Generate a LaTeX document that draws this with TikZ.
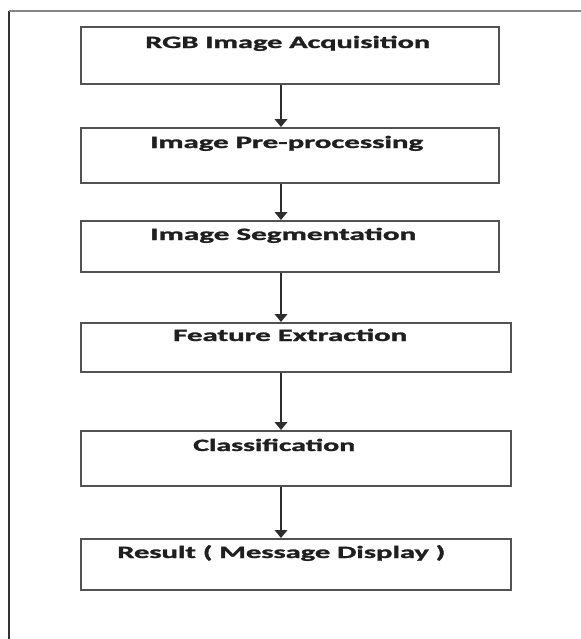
\documentclass[tikz,border=0pt]{standalone}
\usepackage{fontspec}
\setmainfont{Carlito}
\newfontfamily\stagefont{Carlito}[BoldFont={Carlito Bold}, BoldFeatures={FakeBold=1.3}]
\usetikzlibrary{arrows.meta}
\newlength\pxu
\setlength\pxu{0.75pt}
\newcommand\lbl[2]{\resizebox{#1\pxu}{\height}{\stagefont\bfseries #2}}
\tikzset{
  stagebox/.style={draw=black!68, line width=1.9\pxu, rectangle, inner sep=0pt, anchor=north west},
  stagetext/.style={anchor=base west, inner sep=0pt, font=\fontsize{13}{15}\selectfont, text=black!88},
  flowarrow/.style={draw=black!82, line width=1.8\pxu, -{Triangle[width=9.5pt,length=6pt]}},
  frameside/.style={draw=black!80, line width=2\pxu},
  frametop/.style={draw=black!48, line width=2\pxu}
}
\begin{document}
\begin{tikzpicture}[x=0.75pt,y=-0.75pt]
\useasboundingbox (0,0) rectangle (581,639);
% frame
\coordinate (fbl) at (9,640);
\coordinate (ftl) at (9,11);
\coordinate (ftr) at (582,11);
\draw[frameside] (fbl) -- (ftl);
\draw[frametop] (ftl) -- (ftr);
% boxes
\node[stagebox, minimum width=418\pxu, minimum height=57\pxu] (b1) at (80,26) {};
\node[stagebox, minimum width=418\pxu, minimum height=55\pxu] (b2) at (80,127) {};
\node[stagebox, minimum width=418\pxu, minimum height=51\pxu] (b3) at (80,220) {};
\node[stagebox, minimum width=430\pxu, minimum height=49\pxu] (b4) at (80,322) {};
\node[stagebox, minimum width=430\pxu, minimum height=55\pxu] (b5) at (80,430) {};
\node[stagebox, minimum width=430\pxu, minimum height=51\pxu] (b6) at (80,538) {};
% texts
\node[stagetext] (t1) at (145,48) {\lbl{285}{RGB Image Acquisition}};
\node[stagetext] (t2) at (150,148) {\lbl{273}{Image Pre-processing}};
\node[stagetext] (t3) at (150,240) {\lbl{266}{Image Segmentation}};
\node[stagetext] (t4) at (173,341) {\lbl{234}{Feature Extraction}};
\node[stagetext] (t5) at (193,451) {\lbl{162}{Classification}};
\node[stagetext] (t6) at (117,558) {\lbl{328}{Result ( Message  Display )}};
% arrows
\coordinate (ax) at (281,0);
\draw[flowarrow] (b1.south -| ax) -- (b2.north -| ax);
\draw[flowarrow] (b2.south -| ax) -- (b3.north -| ax);
\draw[flowarrow] (b3.south -| ax) -- (b4.north -| ax);
\draw[flowarrow] (b4.south -| ax) -- (b5.north -| ax);
\draw[flowarrow] (b5.south -| ax) -- (b6.north -| ax);
\end{tikzpicture}
\end{document}
